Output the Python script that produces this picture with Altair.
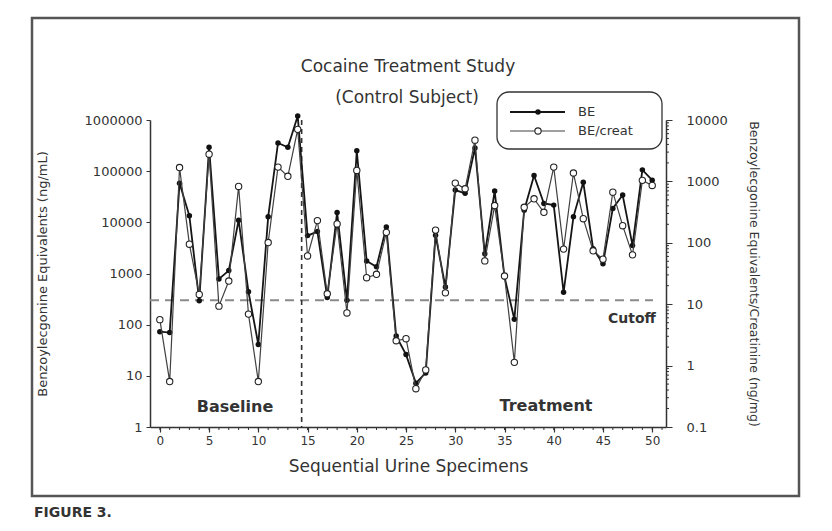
import altair as alt
import pandas as pd

# ---------------- data ----------------
specimen = list(range(51))
be_ngml = [73, 70, 58000, 13400, 293, 293000, 783, 1140, 11000, 440,
           41, 12800, 356000, 293000, 1200000,
           5500, 6600, 341, 15600, 300, 251000, 1750, 1350, 8150, 60,
           26, 7.2, 11.4, 5570, 545,
           42800, 36900, 284000, 2430, 40900, 857, 128, 17300, 82300, 23400,
           21700, 428, 12800, 60700, 3050, 1545, 18700, 34100, 3540, 106000, 66500]
be_per_creat = [5.6, 0.55, 1680, 95, 14.4, 2770, 9.3, 23.8, 828, 6.9,
                0.55, 101, 1710, 1210, 7040,
                61, 230, 14.8, 203, 7.2, 1510, 27, 30.7, 148, 2.54,
                2.74, 0.42, 0.85, 161, 15.3,
                938, 759, 4700, 50.7, 404, 28.8, 1.13, 379, 521, 314,
                1710, 78.9, 1370, 247, 74, 54, 668, 190, 63.6, 1040, 860]
left_ticks = [1, 10, 100, 1000, 10000, 100000, 1000000]
right_ticks = [0.1, 1, 10, 100, 1000, 10000]
right_minor = [m * 10.0 ** k for k in range(-1, 4) for m in range(2, 10)]
x_ticks = list(range(0, 51, 5))
x_minor = list(range(0, 52))
cutoff_ngml = [300]
phase_boundary = [14.4]

df = pd.DataFrame({"specimen": specimen, "be": be_ngml, "ratio": be_per_creat})

# ---------------- styling ----------------
W, H = 516, 307
FONT = "DejaVu Sans"
INK = "#333333"
one = pd.DataFrame({"k": [0]})

x_scale = alt.Scale(domain=[-1, 51.4], nice=False, zero=False)
x_axis = alt.Axis(values=x_ticks, title="Sequential Urine Specimens", grid=False,
                  tickSize=5, tickColor=INK, tickWidth=1.2, domainColor=INK, domainWidth=1.5,
                  labelFont=FONT, labelFontSize=12, labelColor=INK, labelPadding=3,
                  titleFont=FONT, titleFontSize=17, titleFontWeight="normal", titleColor=INK,
                  titlePadding=12)

yl_scale = alt.Scale(type="log", domain=[1, 1000000], nice=False)
yl_axis = alt.Axis(values=left_ticks, format="d", orient="left", grid=False,
                   title="Benzoylecgonine Equivalents (ng/mL)",
                   tickSize=4, tickColor=INK, domainColor=INK, domainWidth=1.5,
                   labelFont=FONT, labelFontSize=13, labelColor=INK, labelPadding=4,
                   titleFont=FONT, titleFontSize=13, titleFontWeight="normal", titleColor=INK,
                   titleAngle=270, titleX=-108, titleY=H / 2, titleAlign="center",
                   titleBaseline="middle")

yr_scale = alt.Scale(type="log", domain=[0.1, 10000], nice=False)
yr_axis = alt.Axis(values=right_ticks, orient="right", grid=False,
                   labelExpr="datum.value < 1 ? '0.1' : format(datum.value, 'd')",
                   title="Benzoylecgonine Equivalents/Creatinine (ng/mg)",
                   tickSize=6, tickColor=INK, domainColor=INK, domainWidth=1.5,
                   labelFont=FONT, labelFontSize=13, labelColor=INK, labelPadding=14,
                   titleFont=FONT, titleFontSize=12.5, titleFontWeight="normal", titleColor=INK,
                   titleAngle=90, titleX=87, titleY=H / 2, titleAlign="center",
                   titleBaseline="middle")


def X(field):
    return alt.X(f"{field}:Q", scale=x_scale, axis=x_axis)


def YL(field):
    return alt.Y(f"{field}:Q", scale=yl_scale, axis=yl_axis)


def YR(field):
    return alt.Y(f"{field}:Q", scale=yr_scale, axis=yr_axis)


def label(text, x, y, size=14, weight="normal", align="center"):
    return alt.Chart(one).mark_text(font=FONT, fontSize=size, fontWeight=weight, color=INK,
                                    align=align, baseline="middle").encode(
        x=alt.value(x), y=alt.value(y), text=alt.value(text))


base = alt.Chart(df)

frame = alt.Chart(one).mark_rect(fill="white", fillOpacity=0, stroke="#555555", strokeWidth=2.5).encode(
    x=alt.value(-118), x2=alt.value(649), y=alt.value(-102), y2=alt.value(376))

cutoff_rule = alt.Chart(pd.DataFrame({"cutoff": cutoff_ngml})).mark_rule(
    strokeDash=[9, 6], color="#8a8a8a", strokeWidth=2).encode(
    y=YL("cutoff"), x=alt.value(0), x2=alt.value(503))

boundary_rule = alt.Chart(pd.DataFrame({"b": phase_boundary})).mark_rule(
    strokeDash=[5, 4], color=INK, strokeWidth=1.6).encode(
    x=X("b"), y=alt.value(0), y2=alt.value(H))

minor_x = alt.Chart(pd.DataFrame({"m": x_minor})).mark_rule(color=INK, strokeWidth=1).encode(
    x=X("m"), y=alt.value(H), y2=alt.value(H + 3))

be_line = base.mark_line(color="#151515", strokeWidth=1.8).encode(x=X("specimen"), y=YL("be"))
be_pts = base.mark_point(filled=True, shape="circle", size=30, color="#111111", opacity=1).encode(
    x=X("specimen"), y=YL("be"))

legend_box = alt.Chart(one).mark_rect(cornerRadius=12, fill="white", fillOpacity=0,
                                      stroke=INK, strokeWidth=1.3).encode(
    x=alt.value(347), x2=alt.value(512), y=alt.value(-28), y2=alt.value(29))
leg_line1 = alt.Chart(one).mark_rule(color="#151515", strokeWidth=1.8).encode(
    x=alt.value(360), x2=alt.value(415), y=alt.value(-8))
leg_dot1 = alt.Chart(one).mark_point(filled=True, shape="circle", size=30, color="#111111", opacity=1).encode(
    x=alt.value(388), y=alt.value(-8))
leg_line2 = alt.Chart(one).mark_rule(color="#404040", strokeWidth=1.2).encode(
    x=alt.value(360), x2=alt.value(415), y=alt.value(11))
leg_dot2 = alt.Chart(one).mark_point(filled=True, shape="circle", size=40, fill="white", stroke="#222222",
                                     strokeWidth=1.1, opacity=1).encode(
    x=alt.value(388), y=alt.value(11))

group_a = alt.layer(
    frame, cutoff_rule, boundary_rule, minor_x, be_line, be_pts,
    label("Cocaine Treatment Study", 258, -53, size=17),
    label("(Control Subject)", 257, -22, size=17),
    label("Baseline", 85, 287, size=16, weight="bold"),
    label("Treatment", 396, 286, size=16, weight="bold"),
    label("Cutoff", 482, 199, size=14, weight="bold"),
    label("FIGURE 3.", -116, 393, size=14, weight="bold", align="left"),
    legend_box, leg_line1, leg_dot1, leg_line2, leg_dot2,
    label("BE", 428, -8, size=13, align="left"),
    label("BE/creat", 428, 11, size=13, align="left"),
)

minor_r = alt.Chart(pd.DataFrame({"r": right_minor})).mark_rule(color=INK, strokeWidth=1).encode(
    y=YR("r"), x=alt.value(W), x2=alt.value(W + 3))
ratio_line = base.mark_line(color="#404040", strokeWidth=1.2).encode(x=X("specimen"), y=YR("ratio"))
ratio_pts = base.mark_point(filled=True, shape="circle", size=40, fill="white", stroke="#222222",
                            strokeWidth=1.1, opacity=1).encode(x=X("specimen"), y=YR("ratio"))

group_b = alt.layer(minor_r, ratio_line, ratio_pts)

chart = alt.layer(group_a, group_b).resolve_scale(y="independent").properties(
    width=W, height=H,
    autosize=alt.AutoSizeParams(type="none"),
    padding={"left": 142, "top": 112, "right": 158, "bottom": 96},
    background="white",
).configure_view(stroke=None)

chart.save("out.html", embed_options={"renderer": "svg", "actions": False})
